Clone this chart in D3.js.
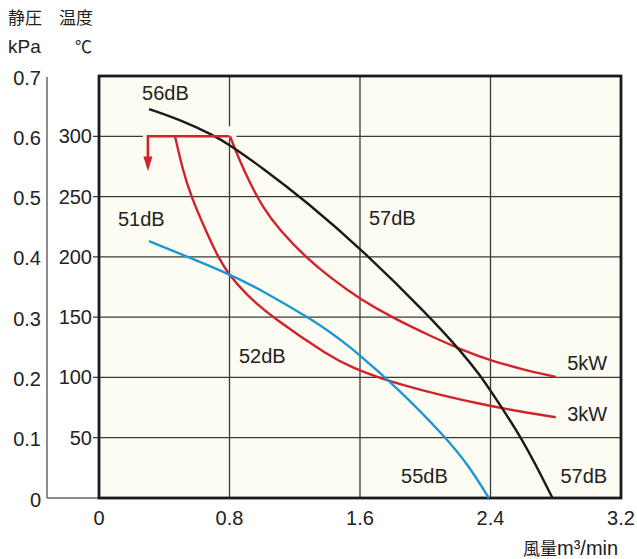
<!DOCTYPE html>
<html><head><meta charset="utf-8">
<script src="https://cdn.jsdelivr.net/npm/d3@7"></script>
<style>body{margin:0;background:#fff}</style>
</head><body>
<svg id="c" width="637" height="559"></svg>
<script>
// ---- data ----
const xTicks = [0, 0.8, 1.6, 2.4, 3.2];
const xTickLabels = ["0", "0.8", "1.6", "2.4", "3.2"];
const pressureTicks = [0, 0.1, 0.2, 0.3, 0.4, 0.5, 0.6, 0.7];
const pressureLabels = ["0", "0.1", "0.2", "0.3", "0.4", "0.5", "0.6", "0.7"];
const tempTicks = [50, 100, 150, 200, 250, 300];

// black curve (56dB -> 57dB)
const blackX = [0.307, 0.5, 0.7, 0.8, 1.0, 1.27, 1.62, 2.03, 2.23, 2.34, 2.4, 2.6, 2.78];
const blackY = [0.645, 0.627, 0.602, 0.586, 0.548, 0.492, 0.41, 0.3, 0.24, 0.202, 0.178, 0.097, 0];
// blue curve (51dB -> 55dB)
const blueX = [0.307, 0.8, 1.0, 1.28, 1.42, 1.54, 1.6, 1.8, 2.13, 2.27, 2.39];
const blueY = [0.426, 0.372, 0.344, 0.3, 0.275, 0.25, 0.236, 0.19, 0.1, 0.052, 0];
// red 3kW temperature curve
const kw3X = [0.466, 0.51, 0.56, 0.66, 0.735, 0.8, 0.9, 1.06, 1.42, 1.54, 1.8, 2.4, 2.8];
const kw3Y = [0.6, 0.548, 0.503, 0.44, 0.397, 0.369, 0.338, 0.3, 0.234, 0.218, 0.19, 0.151, 0.134];
// red 5kW temperature curve
const kw5X = [0.803, 0.854, 0.926, 1.0, 1.11, 1.273, 1.42, 1.6, 1.8, 2.03, 2.23, 2.4, 2.6, 2.8];
const kw5Y = [0.6, 0.565, 0.522, 0.484, 0.443, 0.398, 0.365, 0.33, 0.299, 0.269, 0.245, 0.228, 0.213, 0.201];
// red bracket with arrow (temperature limit)
const bracketX = [0.8, 0.3, 0.3];
const bracketY = [0.6, 0.6, 0.565];
const arrowTipY = 0.542;

// annotation labels
const labelText = ["56dB", "51dB", "57dB", "52dB", "5kW", "3kW", "55dB", "57dB"];
const labelX = [0.264, 0.116, 1.655, 0.858, 3.115, 3.115, 1.852, 3.115];
const labelY = [0.66, 0.451, 0.453, 0.224, 0.212, 0.128, 0.025, 0.025];
const labelAnchor = ["start", "start", "start", "start", "end", "end", "start", "end"];

// ---- drawing ----
const svg = d3.select("#c");
const LAT = "'Liberation Sans', Arial, sans-serif";
const CJK = "'Noto Sans CJK JP', sans-serif";
const x = d3.scaleLinear().domain([0, 3.2]).range([99, 621]);
const y = d3.scaleLinear().domain([0, 0.7]).range([498, 76]);
const t = d3.scaleLinear().domain([0, 350]).range([498, 76]);

const RED = "#d1232b", BLUE = "#1d97d4", BLACK = "#1a1a1a";

// plot background
svg.append("rect").attr("x", x(0)).attr("y", y(0.7))
  .attr("width", x(3.2) - x(0)).attr("height", y(0) - y(0.7))
  .attr("fill", "#fcfcf3");

// horizontal grid (temperature ticks) extending slightly left as ticks
svg.append("g").selectAll("line").data(tempTicks).join("line")
  .attr("x1", x(0) - 6).attr("x2", x(3.2))
  .attr("y1", d => t(d)).attr("y2", d => t(d))
  .attr("stroke", "#3a3a3a").attr("stroke-width", 1.3);

// vertical grid
svg.append("g").selectAll("line").data(xTicks.slice(1, -1)).join("line")
  .attr("x1", d => x(d)).attr("x2", d => x(d))
  .attr("y1", y(0.7)).attr("y2", y(0))
  .attr("stroke", "#3a3a3a").attr("stroke-width", 1.3);

// halo under red bracket (gap in grid)
svg.append("rect")
  .attr("x", x(bracketX[1]) - 5).attr("y", y(0.6) - 10)
  .attr("width", x(bracketX[0]) - x(bracketX[1]) + 12).attr("height", 12)
  .attr("fill", "#fcfcf3");

// left pressure axis line + bottom connecting line
svg.append("line").attr("x1", 47).attr("x2", 47).attr("y1", y(0.7) + 1).attr("y2", y(0))
  .attr("stroke", "#666").attr("stroke-width", 1.5);
svg.append("line").attr("x1", 47).attr("x2", x(0)).attr("y1", y(0)).attr("y2", y(0))
  .attr("stroke", "#666").attr("stroke-width", 1.5);

// plot border
svg.append("rect").attr("x", x(0)).attr("y", y(0.7))
  .attr("width", x(3.2) - x(0)).attr("height", y(0) - y(0.7))
  .attr("fill", "none").attr("stroke", BLACK).attr("stroke-width", 2.8);

// curves
const line = d3.line().x(d => x(d[0])).y(d => y(d[1])).curve(d3.curveBasis);
function drawCurve(xs, ys, color) {
  svg.append("path").datum(d3.zip(xs, ys)).attr("d", line)
    .attr("fill", "none").attr("stroke", color).attr("stroke-width", 2.4);
}
drawCurve(kw3X, kw3Y, RED);
drawCurve(kw5X, kw5Y, RED);
drawCurve(blackX, blackY, BLACK);
drawCurve(blueX, blueY, BLUE);

// red bracket + arrow
const straight = d3.line().x(d => x(d[0])).y(d => y(d[1]));
svg.append("path").datum(d3.zip(bracketX, bracketY)).attr("d", straight)
  .attr("fill", "none").attr("stroke", RED).attr("stroke-width", 2.6)
  .attr("stroke-linejoin", "miter");
const ax = x(bracketX[2]), ab = y(bracketY[2]), at = y(arrowTipY);
svg.append("path")
  .attr("d", `M${ax - 4.5},${ab - 1}L${ax + 4.5},${ab - 1}L${ax},${at}Z`)
  .attr("fill", RED);

// annotation labels
svg.append("g").selectAll("text").data(labelText).join("text")
  .attr("x", (d, i) => x(labelX[i])).attr("y", (d, i) => y(labelY[i]))
  .attr("text-anchor", (d, i) => labelAnchor[i])
  .attr("font-family", LAT).attr("font-size", 20).attr("fill", "#222")
  .text(d => d);

// x tick labels
svg.append("g").selectAll("text").data(xTicks).join("text")
  .attr("x", d => x(d)).attr("y", y(0) + 27).attr("text-anchor", "middle")
  .attr("font-family", LAT).attr("font-size", 20).attr("fill", "#222")
  .text((d, i) => xTickLabels[i]);

// pressure tick labels
svg.append("g").selectAll("text").data(pressureTicks).join("text")
  .attr("x", 41).attr("y", d => y(d) + 8.5).attr("text-anchor", "end")
  .attr("font-family", LAT).attr("font-size", 20).attr("fill", "#222")
  .text((d, i) => pressureLabels[i]);

// temperature tick labels
svg.append("g").selectAll("text").data(tempTicks).join("text")
  .attr("x", 92).attr("y", d => t(d) + 7).attr("text-anchor", "end")
  .attr("font-family", LAT).attr("font-size", 20).attr("fill", "#222")
  .text(d => d);

// headers
svg.append("text").attr("x", 8).attr("y", 24).attr("font-family", CJK)
  .attr("font-size", 17).attr("fill", "#222").text("静圧");
svg.append("text").attr("x", 59).attr("y", 24).attr("font-family", CJK)
  .attr("font-size", 17).attr("fill", "#222").text("温度");
svg.append("text").attr("x", 8).attr("y", 53).attr("font-family", LAT)
  .attr("font-size", 19).attr("fill", "#222").text("kPa");
svg.append("text").attr("x", 75).attr("y", 53).attr("font-family", CJK)
  .attr("font-size", 17).attr("fill", "#222").text("℃");

// x axis title
const xt = svg.append("text").attr("x", 523).attr("y", 555).attr("fill", "#222");
xt.append("tspan").attr("font-family", CJK).attr("font-size", 17).text("風量");
xt.append("tspan").attr("font-family", LAT).attr("font-size", 20).text("m³/min");
</script>
</body></html>
